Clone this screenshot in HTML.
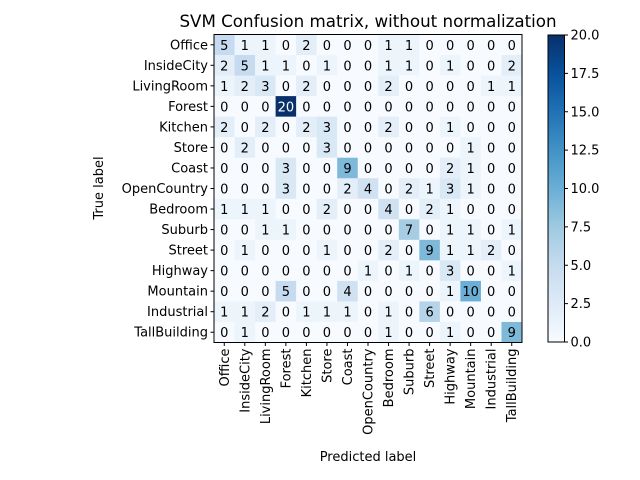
<!DOCTYPE html>
<html><head><meta charset="utf-8"><style>
html,body{margin:0;padding:0;background:#fff;}
svg{display:block;font-family:"DejaVu Sans","Liberation Sans",sans-serif;}
</style></head><body>
<svg id="chart" width="640" height="480" viewBox="0 0 640 480" xmlns="http://www.w3.org/2000/svg">
<text x="368" y="27" font-size="16.7" text-anchor="middle">SVM Confusion matrix, without normalization</text>
<g id="cells"></g><g id="axes"></g><g id="cbar"></g>
<text transform="translate(103,188) rotate(-90)" font-size="13" text-anchor="middle">True label</text>
<text x="368" y="461" font-size="13" text-anchor="middle">Predicted label</text>
</svg>
<script>
const classes=["Office","InsideCity","LivingRoom","Forest","Kitchen","Store","Coast","OpenCountry","Bedroom","Suburb","Street","Highway","Mountain","Industrial","TallBuilding"];
const row0=[5,1,1,0,2,0,0,0,1,1,0,0,0,0,0];
const row1=[2,5,1,1,0,1,0,0,1,1,0,1,0,0,2];
const row2=[1,2,3,0,2,0,0,0,2,0,0,0,0,1,1];
const row3=[0,0,0,20,0,0,0,0,0,0,0,0,0,0,0];
const row4=[2,0,2,0,2,3,0,0,2,0,0,1,0,0,0];
const row5=[0,2,0,0,0,3,0,0,0,0,0,0,1,0,0];
const row6=[0,0,0,3,0,0,9,0,0,0,0,2,1,0,0];
const row7=[0,0,0,3,0,0,2,4,0,2,1,3,1,0,0];
const row8=[1,1,1,0,0,2,0,0,4,0,2,1,0,0,0];
const row9=[0,0,1,1,0,0,0,0,0,7,0,1,1,0,1];
const row10=[0,1,0,0,0,1,0,0,2,0,9,1,1,2,0];
const row11=[0,0,0,0,0,0,0,1,0,1,0,3,0,0,1];
const row12=[0,0,0,5,0,0,4,0,0,0,0,1,10,0,0];
const row13=[1,1,2,0,1,1,1,0,1,0,6,0,0,0,0];
const row14=[0,1,0,0,0,0,0,0,1,0,0,1,0,0,9];
const matrix=[row0,row1,row2,row3,row4,row5,row6,row7,row8,row9,row10,row11,row12,row13,row14];
const cbarTicks=[0,2.5,5,7.5,10,12.5,15,17.5,20];

const NS="http://www.w3.org/2000/svg";
const X0=214,Y0=34.5,SIZE=308,n=classes.length,cw=SIZE/n;
const vmax=Math.max(...matrix.flat());
const stops=["#f7fbff","#deebf7","#c6dbef","#9ecae1","#6baed6","#4292c6","#2171b5","#08519c","#08306b"];
function hex(h){return [1,3,5].map(i=>parseInt(h.substr(i,2),16));}
function blues(t){t=Math.max(0,Math.min(1,t));const p=t*(stops.length-1),i=Math.min(stops.length-2,Math.floor(p)),f=p-i;const a=hex(stops[i]),b=hex(stops[i+1]);return "rgb("+a.map((v,k)=>Math.round(v+(b[k]-v)*f)).join(",")+")";}
function xs(j){return X0+j*cw;}
function ys(i){return Y0+i*cw;}
function mk(tag,attrs,parent){const e=document.createElementNS(NS,tag);for(const k in attrs)e.setAttribute(k,attrs[k]);parent.appendChild(e);return e;}
const cells=document.getElementById("cells"),axes=document.getElementById("axes"),cb=document.getElementById("cbar");
matrix.forEach((row,i)=>row.forEach((v,j)=>{
  const r=mk("rect",{x:xs(j),y:ys(i),width:cw+0.5,height:cw+0.5,fill:blues(v/vmax)},cells);
  
  
  const t=mk("text",{x:xs(j)+cw/2,y:ys(i)+cw/2+5,"font-size":13,"text-anchor":"middle",fill:v>vmax/2?"#fff":"#000"},cells);
  t.textContent=v;
  
  
}));
const fr=mk("rect",{x:X0,y:Y0,width:SIZE,height:SIZE,fill:"none",stroke:"#000","stroke-width":1},axes);


classes.forEach((c,i)=>{
  const y=ys(i)+cw/2;
  mk("line",{x1:X0-3.5,x2:X0,y1:y,y2:y,stroke:"#000"},axes);
  const t=mk("text",{x:X0-6,y:y+4.5,"font-size":13,"text-anchor":"end"},axes);
  t.textContent=c;
  
  
  const x=xs(i)+cw/2;
  mk("line",{x1:x,x2:x,y1:Y0+SIZE,y2:Y0+SIZE+3.5,stroke:"#000"},axes);
  const tx=mk("text",{transform:"translate("+(x+4.5)+","+(Y0+SIZE+6)+") rotate(-90)","font-size":13,"text-anchor":"end"},axes);
  tx.textContent=c;
  
  
});
const CX=548,CW=16.5,CY0=35,CY1=342;
const defs=mk("defs",{},cb);
const g=mk("linearGradient",{id:"bl",x1:0,y1:1,x2:0,y2:0},defs);
stops.forEach((s,k)=>mk("stop",{offset:k/(stops.length-1),"stop-color":s},g));
const cr=mk("rect",{x:CX,y:CY0,width:CW,height:CY1-CY0,fill:"url(#bl)",stroke:"#000"},cb);


function cy(v){return CY1-(v/vmax)*(CY1-CY0);}
cbarTicks.forEach(v=>{
  const y=cy(v);
  mk("line",{x1:CX+CW,x2:CX+CW+3.5,y1:y,y2:y,stroke:"#000"},cb);
  const t=mk("text",{x:CX+CW+6,y:y+4.5,"font-size":13},cb);
  t.textContent=v.toFixed(1);
  
  
});
</script>
</body></html>
